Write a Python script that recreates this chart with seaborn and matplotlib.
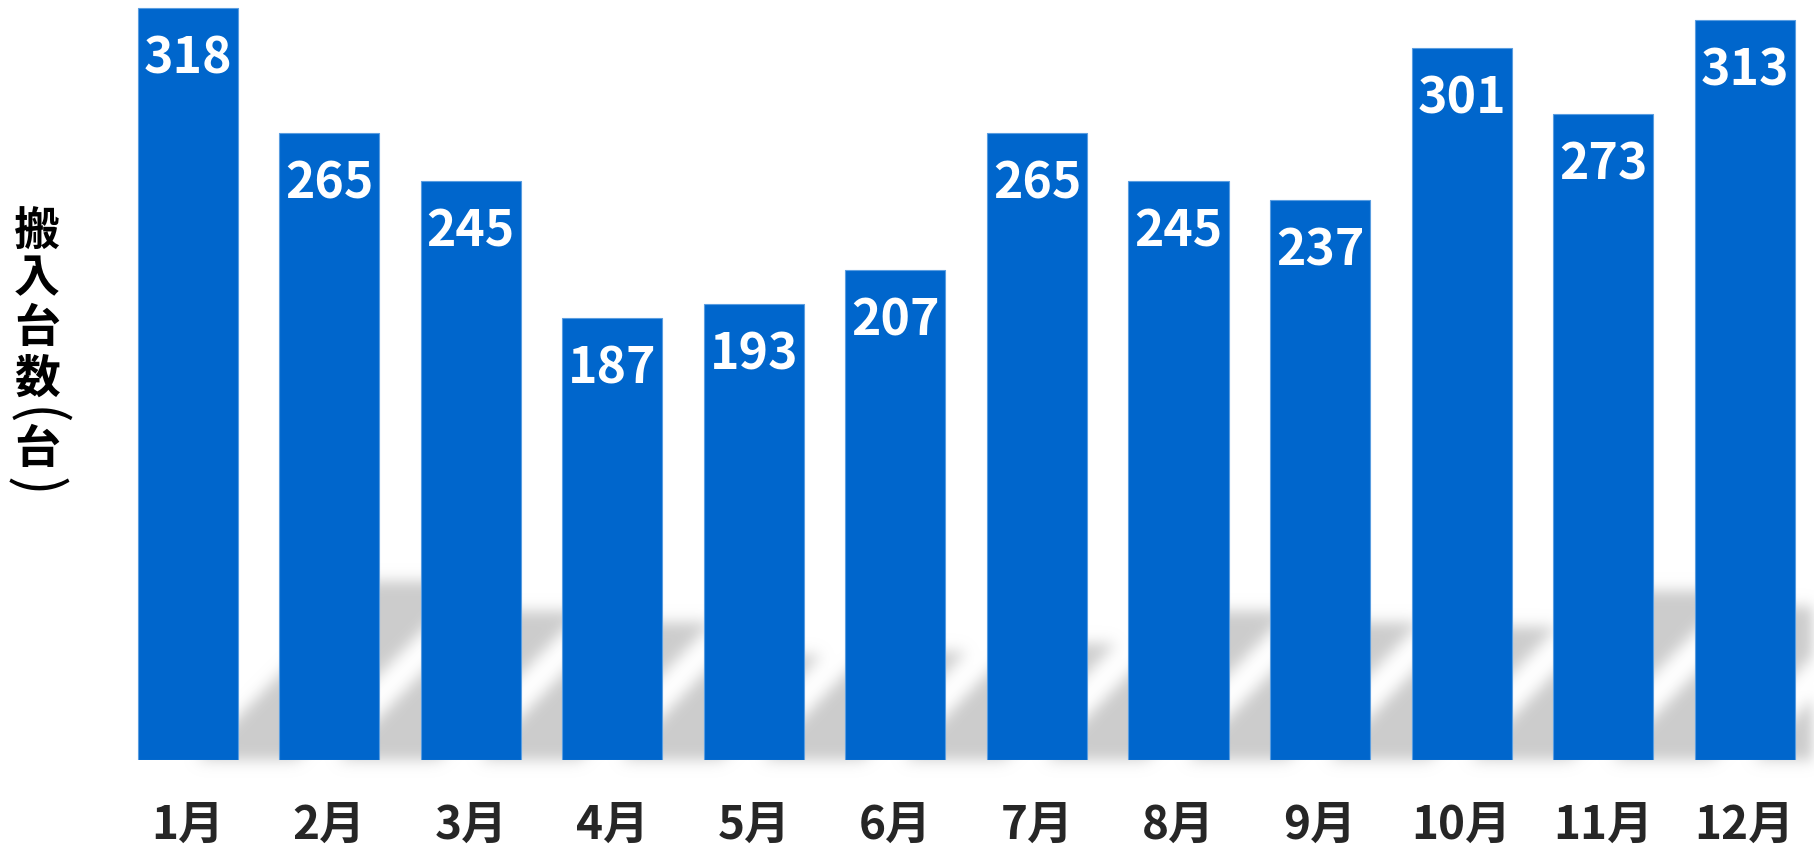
import numpy as np
import pandas as pd
import matplotlib
matplotlib.use('Agg')
import matplotlib.pyplot as plt
from matplotlib.collections import PolyCollection
import seaborn as sns

months = ['1月', '2月', '3月', '4月', '5月', '6月', '7月', '8月', '9月', '10月', '11月', '12月']
counts = [318, 265, 245, 187, 193, 207, 265, 245, 237, 301, 273, 313]
ylabel_chars = ['搬', '入', '台', '数', '(', '台', ')']

df = pd.DataFrame({'month': months, 'count': counts})

sns.set_style('white')
plt.rcParams['font.family'] = ['Noto Sans CJK JP', 'DejaVu Sans']

W, H = 1814, 853
fig = plt.figure(figsize=(W / 100, H / 100), dpi=100)
ax = fig.add_axes([117 / W, 92 / H, 1697 / W, 761 / H])

bar_w = 0.707
sns.barplot(data=df, x='month', y='count', color='#0066CC', saturation=1,
            width=bar_w, edgecolor='#5a9de0', linewidth=0.8, ax=ax, zorder=3)
ax.set_xlim(-0.5, 11.49)
ax.set_ylim(0, 321.8)

# soft slanted shadow behind every bar
sx = 1697 / 11.99
sy = 761 / 321.8
polys = []
for i, v in enumerate(counts):
    hs = 0.238 * v
    shift = hs * sy / sx
    off = 54 / sx
    x0 = i - bar_w / 2 + off
    x1 = i + bar_w / 2 + off
    polys.append([(x0, -2), (x1, -2), (x1 + shift, hs), (x0 + shift, hs)])


def gauss_blur(im, dpi, sigma=5.0, pad=20):
    a = np.pad(im[..., 3], pad)
    t = np.arange(-3 * int(sigma), 3 * int(sigma) + 1)
    k = np.exp(-t ** 2 / (2 * sigma ** 2))
    k /= k.sum()
    a = np.apply_along_axis(lambda r: np.convolve(r, k, mode='same'), 0, a)
    a = np.apply_along_axis(lambda r: np.convolve(r, k, mode='same'), 1, a)
    out = np.zeros(a.shape + (4,))
    out[..., :3] = 0.8
    out[..., 3] = np.clip(a, 0, 1)
    return out, -pad, -pad


shadow = PolyCollection(polys, facecolor='#cccccc', edgecolor='none', zorder=1)
shadow.set_agg_filter(gauss_blur)
shadow.set_rasterized(True)
ax.add_collection(shadow)

for i, v in enumerate(counts):
    ax.annotate(str(v), (i, v), xytext=(0, -36), textcoords='offset points',
                ha='center', va='center', color='white', fontsize=36,
                fontweight='bold', zorder=5)

for s in ax.spines.values():
    s.set_visible(False)
ax.set_yticks([])
ax.set_xlabel('')
ax.set_ylabel('')
ax.tick_params(axis='x', length=0, pad=30, labelsize=33)
for lab in ax.get_xticklabels():
    lab.set_fontweight('bold')

# vertical y label, one character per line, brackets turned sideways
steps = [0, 46, 50, 51, 37, 33, 37]
y = 233
for ch, st in zip(ylabel_chars, steps):
    y += st
    if ch in '()':
        fig.text(34 / W, 1 - y / H, ch, ha='center', va='center', fontsize=42,
                 rotation=-90, rotation_mode='anchor', color='black')
    else:
        fig.text(37 / W, 1 - y / H, ch, ha='center', va='center', fontsize=33,
                 fontweight='bold', color='black')

fig.savefig('out.png', dpi=100, facecolor='white')
